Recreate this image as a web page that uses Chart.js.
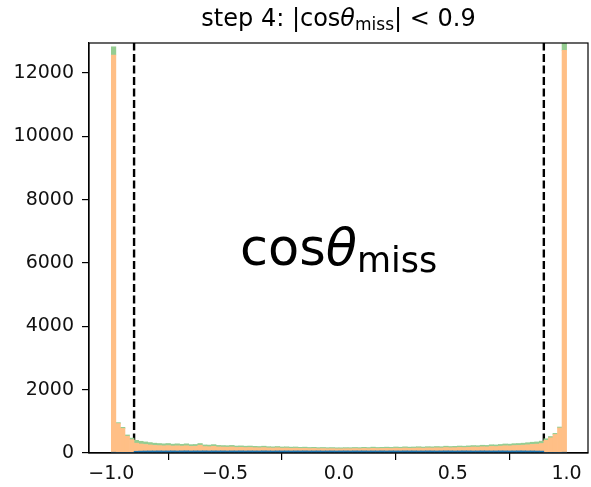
<!DOCTYPE html>
<html>
<head>
<meta charset="utf-8">
<script src="https://cdn.jsdelivr.net/npm/chart.js@4.4.1/dist/chart.umd.min.js"></script>
<style>
  html, body { margin: 0; padding: 0; background: #fff; }
  canvas { display: block; }
</style>
</head>
<body>
<canvas id="cos_miss_hist" width="591" height="487"></canvas>
<script>
// histogram of cos(theta_miss): 100 bins of 0.02 from -1 to 1, three stacked samples
var binLow  = -1.0;
var binStep = 0.02;

var blueCounts = [
    25, 15, 12, 12, 15, 55, 60, 63, 65, 65,
    67, 65, 66, 68, 65, 67, 69, 65, 67, 66,
    68, 65, 67, 66, 68, 65, 67, 66, 68, 65,
    67, 66, 65, 68, 66, 65, 67, 66, 67, 65,
    67, 66, 68, 65, 66, 67, 65, 66, 67, 65,
    66, 67, 65, 68, 66, 67, 65, 67, 66, 68,
    65, 67, 66, 65, 68, 66, 67, 65, 66, 68,
    67, 65, 66, 68, 67, 65, 66, 68, 67, 65,
    66, 68, 67, 65, 66, 68, 67, 65, 66, 68,
    67, 65, 66, 63, 60, 15, 12, 12, 15, 25
];
var orangeCounts = [
    12545, 915, 763, 518, 405, 255, 225, 207, 190, 175,
    167, 161, 168, 152, 162, 150, 159, 144, 146, 179,
    134, 133, 143, 124, 119, 118, 123, 109, 111, 106,
    108, 102, 99, 103, 94, 91, 97, 86, 89, 83,
    85, 78, 80, 75, 78, 69, 75, 69, 71, 67,
    66, 69, 70, 72, 70, 77, 73, 81, 74, 76,
    83, 76, 86, 81, 88, 82, 85, 93, 85, 92,
    89, 99, 92, 104, 97, 103, 110, 104, 113, 123,
    118, 128, 125, 143, 138, 148, 161, 159, 170, 172,
    181, 195, 206, 217, 240, 385, 468, 573, 775, 12695
];
var greenCounts = [
    260, 30, 35, 40, 50, 90, 85, 80, 75, 70,
    66, 64, 66, 60, 63, 58, 62, 56, 57, 55,
    53, 52, 55, 50, 48, 47, 50, 45, 46, 44,
    45, 42, 41, 44, 40, 39, 41, 38, 39, 37,
    38, 36, 37, 35, 36, 34, 35, 33, 34, 33,
    33, 34, 33, 35, 34, 36, 34, 37, 35, 36,
    37, 35, 38, 36, 39, 37, 38, 40, 37, 40,
    39, 41, 40, 43, 41, 42, 44, 43, 45, 47,
    46, 49, 48, 52, 51, 54, 57, 56, 59, 60,
    62, 65, 68, 70, 75, 50, 40, 35, 30, 240
];

var cutValues = [-0.9, 0.9];
var xTicks = [-1.0, -0.5, 0.0, 0.5, 1.0];
var yTicks = [0, 2000, 4000, 6000, 8000, 10000, 12000];
var xRange = [-1.098, 1.094];
var yTop   = 12950;

var FONT = "'DejaVu Sans', sans-serif";

var binCenters = blueCounts.map(function (_, i) {
    return +(binLow + (i + 0.5) * binStep).toFixed(3);
});

function toPoints(counts) {
    return counts.map(function (c, i) { return { x: binCenters[i], y: c }; });
}

function barSet(label, counts, color) {
    return {
        type: 'bar',
        label: label,
        data: toPoints(counts),
        backgroundColor: color,
        borderWidth: 0,
        barPercentage: 1.0,
        categoryPercentage: 1.0,
        stack: 'hist'
    };
}

function cutLine(x, i) {
    return {
        type: 'line',
        label: 'cut ' + i,
        data: [{ x: x, y: 0 }, { x: x, y: yTop }],
        borderColor: '#000',
        borderWidth: 2.4,
        borderDash: [8, 3.5],
        pointRadius: 0,
        fill: false,
        stack: 'cut' + i
    };
}

// text runs with italic theta and lowered subscripts, like mathtext
function drawRuns(ctx, runs, x, y, align) {
    var total = 0;
    runs.forEach(function (r) {
        ctx.font = (r.italic ? 'italic ' : '') + r.size + 'px ' + FONT;
        r.w = ctx.measureText(r.t).width;
        total += r.w;
    });
    var cx = align === 'center' ? x - total / 2 : x;
    ctx.textAlign = 'left';
    ctx.textBaseline = 'alphabetic';
    runs.forEach(function (r) {
        ctx.font = (r.italic ? 'italic ' : '') + r.size + 'px ' + FONT;
        ctx.fillText(r.t, cx, y + (r.dy || 0));
        cx += r.w;
    });
}

var decorations = {
    id: 'decorations',
    afterDatasetsDraw: function (chart) {
        var ctx = chart.ctx, a = chart.chartArea;
        var xs = chart.scales.x, ys = chart.scales.y;
        ctx.save();
        ctx.fillStyle = '#000';

        // frame on all four sides
        ctx.strokeStyle = '#000';
        ctx.lineWidth = 1.2;
        ctx.strokeRect(a.left, a.top, a.right - a.left, a.bottom - a.top);

        // title
        drawRuns(ctx, [
            { t: 'step 4: |cos', size: 24 },
            { t: '\u03b8', size: 24, italic: true },
            { t: 'miss', size: 17, dy: 4 },
            { t: '| < 0.9', size: 24 }
        ], (a.left + a.right) / 2, 26, 'center');

        // variable name inside the axes
        drawRuns(ctx, [
            { t: 'cos', size: 51 },
            { t: '\u03b8', size: 51, italic: true },
            { t: 'miss', size: 35, dy: 7 }
        ], xs.getPixelForValue(-0.435), ys.getPixelForValue(5940), 'left');
        ctx.restore();
    }
};

var datasets = [
    barSet('blue', blueCounts, 'rgb(31, 119, 180)'),
    barSet('orange', orangeCounts, 'rgb(255, 191, 134)'),
    barSet('green', greenCounts, 'rgb(149, 205, 145)')
].concat(cutValues.map(cutLine));

var myChart = new Chart(document.getElementById('cos_miss_hist'), {
    type: 'bar',
    data: { datasets: datasets },
    options: {
        responsive: false,
        animation: false,
        layout: { padding: { top: 43, right: 3, left: 0, bottom: 0 } },
        plugins: {
            legend: { display: false },
            tooltip: { enabled: false },
            title: { display: false }
        },
        scales: {
            x: {
                type: 'linear',
                min: xRange[0],
                max: xRange[1],
                offset: false,
                stacked: true,
                afterBuildTicks: function (s) { s.ticks = xTicks.map(function (v) { return { value: v }; }); },
                afterFit: function (s) { s.height = 34; },
                ticks: {
                    color: '#111',
                    font: { family: FONT, size: 19 },
                    padding: 3,
                    maxRotation: 0,
                    callback: function (v) { return v.toFixed(1).replace('-', '\u2212'); }
                },
                grid: { display: true, drawOnChartArea: false, drawTicks: true, tickLength: 7, color: '#000', lineWidth: 1.2 },
                border: { display: true, color: '#000', width: 1.2 }
            },
            y: {
                min: 0,
                max: yTop,
                stacked: true,
                afterBuildTicks: function (s) { s.ticks = yTicks.map(function (v) { return { value: v }; }); },
                afterFit: function (s) { s.width = 89; },
                ticks: {
                    color: '#111',
                    font: { family: FONT, size: 19 },
                    padding: 8,
                    callback: function (v) { return String(v); }
                },
                grid: { display: true, drawOnChartArea: false, drawTicks: true, tickLength: 7, color: '#000', lineWidth: 1.2 },
                border: { display: true, color: '#000', width: 1.2 }
            }
        }
    },
    plugins: [decorations]
});
</script>
</body>
</html>
